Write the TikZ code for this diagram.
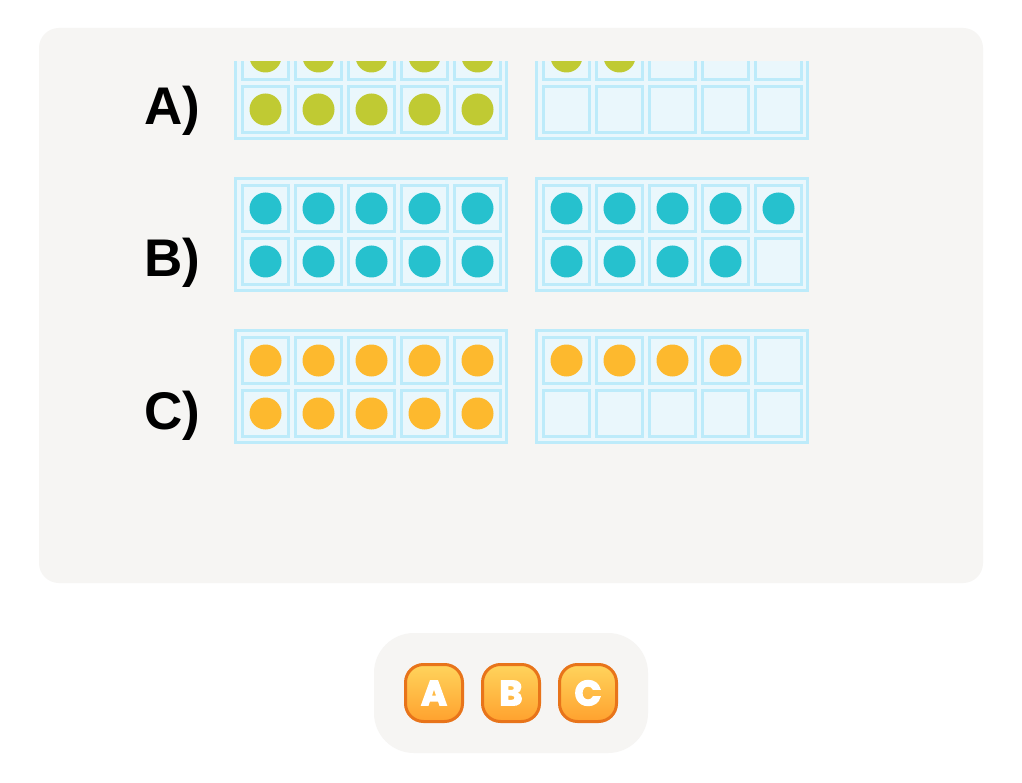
\documentclass[tikz,border=0pt]{standalone}
\usepackage{fontspec}
\setmainfont{Liberation Sans}
\newfontfamily\btnfont[FakeBold=4,BoldFeatures={FakeBold=4}]{Poppins}
\definecolor{panel}{HTML}{F6F5F3}
\definecolor{cellfill}{HTML}{EAF7FC}
\definecolor{cellline}{HTML}{BDEBFA}
\definecolor{dotA}{HTML}{C0CA33}
\definecolor{dotB}{HTML}{26C1CE}
\definecolor{dotC}{HTML}{FDB92E}
\definecolor{btnline}{HTML}{E8741A}
\definecolor{btntop}{HTML}{FFD45C}
\definecolor{btnbot}{HTML}{FFA12E}
\tikzset{
  frameline/.style={draw=cellline, fill=cellfill, line width=3pt},
  cellbox/.style={draw=cellline, fill=cellfill, line width=3pt},
  lbl/.style={font=\bfseries\fontsize{53}{62}\selectfont, anchor=base, inner sep=0pt},
  btn/.style={draw=btnline, line width=3pt, top color=btntop, bottom color=btnbot, rounded corners=18pt, minimum width=57pt, minimum height=57pt, inner sep=0pt},
  btntxt/.style={font=\btnfont\bfseries\fontsize{35}{40}\selectfont, text=white, inner sep=0pt}
}
\newcommand\tenframe[4]{%
  \draw[frameline] (#1+1.5,#2+1.5) rectangle (#1+272.5,#2+113.5);
  \foreach \r in {0,1}{\foreach \c in {0,...,4}{%
    \pgfmathtruncatemacro\k{\r*5+\c+1}
    \draw[cellbox] (#1+7+53*\c+1.5, #2+7+53*\r+1.5) rectangle ++(46,46);
    \ifnum\k>#4\relax\else
      \fill[#3] (#1+7+53*\c+24.5, #2+7+53*\r+24.5) circle[radius=16pt];
    \fi
  }}%
}
\begin{document}
\begin{tikzpicture}[x=1pt,y=-1pt]
\useasboundingbox (0,0) rectangle (1022,783);
\fill[white] (0,0) rectangle (1022,783);
\fill[panel, rounded corners=20pt] (39,28) rectangle (983,583);
\begin{scope}
\clip (39,62) rectangle (983,583);
\tenframe{234}{25}{dotA}{10}
\tenframe{535}{25}{dotA}{2}
\end{scope}
\tenframe{234}{177}{dotB}{10}
\tenframe{535}{177}{dotB}{9}
\tenframe{234}{329}{dotC}{10}
\tenframe{535}{329}{dotC}{4}
\node[lbl] (la) at (172.5,125) {A)};
\node[lbl] (lb) at (172.5,277) {B)};
\node[lbl] (lc) at (172.5,429) {C)};
\fill[panel, rounded corners=40pt] (374,633) rectangle (648,753);
\node[btn] (ba) at (434,693) {};
\node[btn] (bb) at (511,693) {};
\node[btn] (bc) at (588,693) {};
\node[btntxt] (bat) at (ba.center) {A};
\node[btntxt] (bbt) at (bb.center) {B};
\node[btntxt] (bct) at (bc.center) {C};
\end{tikzpicture}
\end{document}
